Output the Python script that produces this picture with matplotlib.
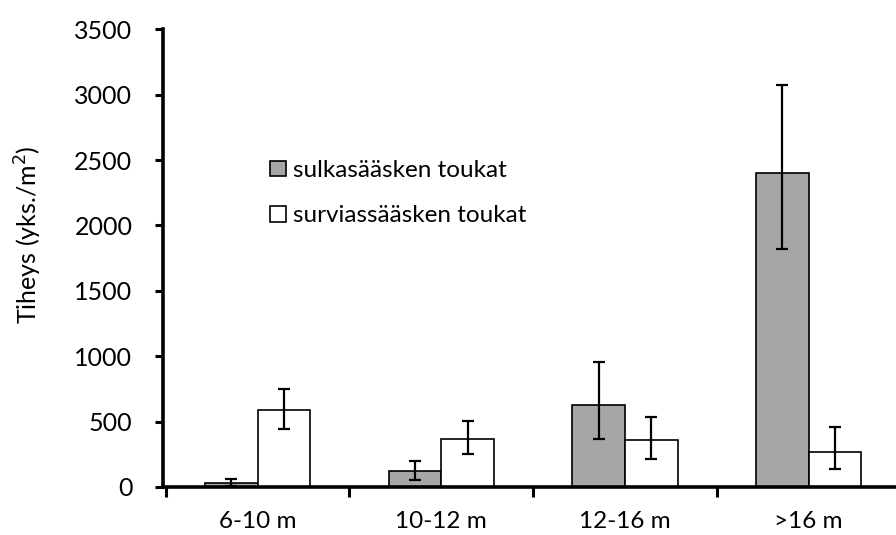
import matplotlib
matplotlib.use('Agg')
import matplotlib.pyplot as plt
import numpy as np

plt.rcParams['font.family'] = ['Lato', 'DejaVu Sans']

categories = ['6-10 m', '10-12 m', '12-16 m', '>16 m']
series_names = ['sulkasääsken toukat', 'surviassääsken toukat']

# densities (yks./m2) and error bar extents
gray_vals = [28, 122, 627, 2403]
gray_err_low = [20, 68, 258, 585]
gray_err_high = [31, 77, 327, 669]

white_vals = [589, 367, 362, 270]
white_err_low = [143, 112, 146, 132]
white_err_high = [160, 135, 171, 189]

fig = plt.figure(figsize=(8.96, 5.35), dpi=100)
ax = fig.add_axes([163 / 896, 48 / 535, 737.6 / 896, 457.7 / 535])

x = np.arange(len(categories))
w = 0.287

ax.bar(x - w / 2, gray_vals, w, color='#a6a6a6', edgecolor='black',
       linewidth=1.2, label=series_names[0], zorder=2)
ax.bar(x + w / 2, white_vals, w, color='white', edgecolor='black',
       linewidth=1.2, label=series_names[1], zorder=2)

ax.errorbar(x - w / 2, gray_vals, yerr=[gray_err_low, gray_err_high],
            fmt='none', ecolor='black', elinewidth=1.6, capsize=4.5,
            capthick=1.6, zorder=3)
ax.errorbar(x + w / 2, white_vals, yerr=[white_err_low, white_err_high],
            fmt='none', ecolor='black', elinewidth=1.6, capsize=4.5,
            capthick=1.6, zorder=3)

ax.set_xlim(-0.515, 3.5)
ax.set_ylim(0, 3500)
ax.set_yticks(range(0, 3501, 500))
ax.set_xticks(x)
ax.set_xticklabels(categories)
ax.set_xticks(np.arange(-0.5, 3.6, 1), minor=True)

for s in ['top', 'right']:
    ax.spines[s].set_visible(False)
for s in ['left', 'bottom']:
    ax.spines[s].set_linewidth(2.6)
    ax.spines[s].set_zorder(4)

ax.tick_params(axis='y', direction='out', length=6, width=2.2,
               labelsize=18, pad=16)
ax.tick_params(axis='x', which='major', length=0, labelsize=17.5, pad=17)
ax.tick_params(axis='x', which='minor', direction='out', length=7, width=2.2)

fig.text(28 / 896, 1 - 235 / 535, 'Tiheys (yks./m$^2$)', rotation=90,
         ha='center', va='center', fontsize=18)

leg = ax.legend(loc='upper left', bbox_to_anchor=(270 / 896, 1 - 160 / 535),
                bbox_transform=fig.transFigure, frameon=False, fontsize=17.5,
                borderpad=0, borderaxespad=0, handlelength=0.65,
                handleheight=0.62, handletextpad=0.3, labelspacing=1.0)

fig.savefig('out.png', dpi=100)
